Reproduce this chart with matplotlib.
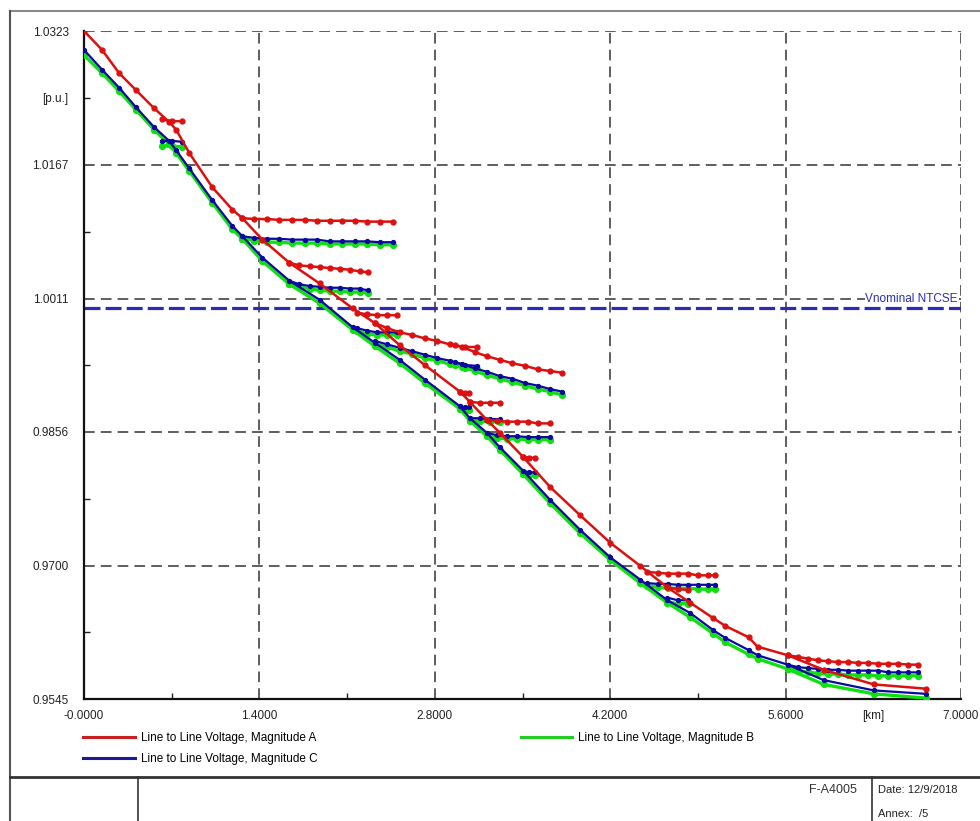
import matplotlib
matplotlib.use("Agg")
import matplotlib.pyplot as plt
from matplotlib import font_manager
from matplotlib.lines import Line2D

# font: narrow Arial look if available
avail = {f.name for f in font_manager.fontManager.ttflist}
fam = 'Liberation Sans Narrow' if 'Liberation Sans Narrow' in avail else 'Liberation Sans'
plt.rcParams['font.family'] = fam

# --- data: distance [km] per segment, voltage [p.u.] per phase (A red, B green, C blue)
main_km = [0.0, 0.144, 0.28, 0.416, 0.56, 0.68, 0.736, 0.84, 1.024, 1.184, 1.264, 1.424,
           1.64, 1.88, 2.144, 2.32, 2.52, 2.72, 3.0, 3.08, 3.216, 3.32, 3.504, 3.72, 3.96,
           4.2, 4.44, 4.656, 4.84, 5.024, 5.12, 5.304, 5.376, 5.616, 5.904, 6.304, 6.72]
main_a = [1.0323, 1.0301, 1.0274, 1.0254, 1.0233, 1.0217, 1.0208, 1.0181, 1.0141, 1.0115,
          1.0105, 1.0080, 1.0053, 1.0029, 1.0000, 0.9983, 0.9957, 0.9934, 0.9903, 0.9891,
          0.9870, 0.9855, 0.9827, 0.9792, 0.9759, 0.9727, 0.9700, 0.9675, 0.9657, 0.9639,
          0.9630, 0.9617, 0.9606, 0.9596, 0.9579, 0.9562, 0.9557]
main_b = [1.0295, 1.0274, 1.0253, 1.0231, 1.0208, 1.0191, 1.0181, 1.0160, 1.0123, 1.0092,
          1.0081, 1.0055, 1.0028, 1.0006, 0.9975, 0.9956, 0.9936, 0.9913, 0.9883, 0.9869,
          0.9851, 0.9835, 0.9807, 0.9773, 0.9738, 0.9707, 0.9680, 0.9657, 0.9640, 0.9621,
          0.9611, 0.9597, 0.9592, 0.9580, 0.9562, 0.9551, 0.9546]
main_c = [1.0301, 1.0278, 1.0257, 1.0234, 1.0211, 1.0195, 1.0184, 1.0163, 1.0126, 1.0096,
          1.0084, 1.0059, 1.0032, 1.0010, 0.9978, 0.9960, 0.9940, 0.9917, 0.9886, 0.9872,
          0.9855, 0.9838, 0.9811, 0.9777, 0.9742, 0.9710, 0.9684, 0.9660, 0.9645, 0.9625,
          0.9616, 0.9602, 0.9596, 0.9585, 0.9567, 0.9555, 0.9551]

stub1_km = [0.624, 0.704, 0.784]
stub1_a = [1.0220, 1.0218, 1.0218]
stub1_b = [1.0189, 1.0189, 1.0188]
stub1_c = [1.0195, 1.0195, 1.0194]

branch1_km = [1.264, 1.36, 1.46, 1.56, 1.66, 1.76, 1.86, 1.96, 2.06, 2.16, 2.26, 2.36, 2.464]
branch1_a = [1.0105, 1.0104, 1.0104, 1.0103, 1.0103, 1.0103, 1.0102, 1.0102, 1.0102, 1.0102,
             1.0101, 1.0101, 1.0101]
branch1_b = [1.0081, 1.0079, 1.0077, 1.0077, 1.0076, 1.0076, 1.0076, 1.0075, 1.0075, 1.0075,
             1.0075, 1.0074, 1.0074]
branch1_c = [1.0084, 1.0082, 1.0081, 1.0081, 1.0080, 1.0080, 1.0080, 1.0078, 1.0078, 1.0078,
             1.0078, 1.0077, 1.0077]

branch2_km = [1.64, 1.72, 1.80, 1.88, 1.96, 2.04, 2.12, 2.20, 2.264]
branch2_a = [1.0053, 1.0050, 1.0049, 1.0048, 1.0047, 1.0046, 1.0045, 1.0043, 1.0042]
branch2_b = [1.0028, 1.0025, 1.0023, 1.0021, 1.0020, 1.0020, 1.0019, 1.0019, 1.0018]
branch2_c = [1.0032, 1.0028, 1.0026, 1.0025, 1.0024, 1.0024, 1.0023, 1.0023, 1.0021]

stub2_km = [2.176, 2.26, 2.34, 2.42, 2.496]
stub2_a = [0.9995, 0.9993, 0.9992, 0.9992, 0.9992]
stub2_b = [0.9974, 0.9970, 0.9969, 0.9969, 0.9969]
stub2_c = [0.9977, 0.9974, 0.9972, 0.9972, 0.9972]

branch3_km = [2.32, 2.42, 2.52, 2.62, 2.72, 2.82, 2.92, 3.02, 3.12, 3.22, 3.32, 3.42, 3.52,
              3.62, 3.72, 3.816]
branch3_a = [0.9983, 0.9977, 0.9972, 0.9969, 0.9965, 0.9962, 0.9958, 0.9955, 0.9949, 0.9944,
             0.9940, 0.9936, 0.9933, 0.9929, 0.9927, 0.9925]
branch3_b = [0.9958, 0.9955, 0.9950, 0.9947, 0.9942, 0.9939, 0.9935, 0.9932, 0.9927, 0.9922,
             0.9918, 0.9914, 0.9910, 0.9906, 0.9903, 0.9899]
branch3_c = [0.9962, 0.9958, 0.9954, 0.9950, 0.9946, 0.9942, 0.9939, 0.9935, 0.9930, 0.9926,
             0.9921, 0.9918, 0.9913, 0.9910, 0.9906, 0.9903]

stub3_km = [2.96, 3.04, 3.136]
stub3_a = [0.9957, 0.9955, 0.9955]
stub3_b = [0.9934, 0.9930, 0.9929]
stub3_c = [0.9937, 0.9934, 0.9933]

stub4_km = [3.0, 3.04, 3.072]
stub4_a = [0.9903, 0.9901, 0.9901]
stub4_b = [0.9883, 0.9882, 0.9882]
stub4_c = [0.9886, 0.9885, 0.9885]

branch4_km = [3.08, 3.16, 3.24, 3.32]
branch4_a = [0.9891, 0.9890, 0.9890, 0.9890]
branch4_b = [0.9869, 0.9869, 0.9868, 0.9868]
branch4_c = [0.9872, 0.9872, 0.9871, 0.9871]

branch5_km = [3.216, 3.30, 3.38, 3.46, 3.54, 3.62, 3.72]
branch5_a = [0.9870, 0.9869, 0.9868, 0.9868, 0.9868, 0.9866, 0.9866]
branch5_b = [0.9851, 0.9849, 0.9848, 0.9848, 0.9847, 0.9847, 0.9847]
branch5_c = [0.9855, 0.9852, 0.9851, 0.9851, 0.9850, 0.9850, 0.9850]

stub5_km = [3.504, 3.55, 3.6]
stub5_a = [0.9827, 0.9826, 0.9826]
stub5_b = [0.9807, 0.9806, 0.9806]
stub5_c = [0.9811, 0.9809, 0.9809]

branch6_km = [4.496, 4.58, 4.66, 4.74, 4.82, 4.90, 4.98, 5.04]
branch6_a = [0.9693, 0.9692, 0.9691, 0.9691, 0.9691, 0.9689, 0.9689, 0.9689]
branch6_b = [0.9677, 0.9675, 0.9674, 0.9674, 0.9674, 0.9673, 0.9673, 0.9673]
branch6_c = [0.9680, 0.9679, 0.9679, 0.9678, 0.9678, 0.9678, 0.9678, 0.9678]

stub6_km = [4.656, 4.74, 4.82]
stub6_a = [0.9675, 0.9673, 0.9672]
stub6_b = [0.9658, 0.9656, 0.9656]
stub6_c = [0.9663, 0.9660, 0.9660]

branch7_km = [5.616, 5.70, 5.78, 5.86, 5.94, 6.02, 6.10, 6.18, 6.26, 6.34, 6.42, 6.50, 6.58, 6.656]
branch7_a = [0.9596, 0.9594, 0.9592, 0.9590, 0.9589, 0.9588, 0.9588, 0.9587, 0.9587, 0.9586,
             0.9586, 0.9586, 0.9585, 0.9585]
branch7_b = [0.9580, 0.9578, 0.9576, 0.9575, 0.9574, 0.9574, 0.9573, 0.9573, 0.9573, 0.9572,
             0.9572, 0.9572, 0.9572, 0.9572]
branch7_c = [0.9585, 0.9582, 0.9581, 0.9580, 0.9579, 0.9579, 0.9578, 0.9578, 0.9578, 0.9578,
             0.9576, 0.9576, 0.9576, 0.9576]

v_nominal = 1.0

x_ticks = [0.0, 1.4, 2.8, 4.2, 5.6, 7.0]
x_labels = ['-0.0000', '1.4000', '2.8000', '4.2000', '5.6000', '7.0000']
y_ticks = [0.9545, 0.9700, 0.9856, 1.0011, 1.0167, 1.0323]
y_labels = ['0.9545', '0.9700', '0.9856', '1.0011', '1.0167', '1.0323']

segments = [
    (main_km, main_a, main_b, main_c),
    (stub1_km, stub1_a, stub1_b, stub1_c),
    (branch1_km, branch1_a, branch1_b, branch1_c),
    (branch2_km, branch2_a, branch2_b, branch2_c),
    (stub2_km, stub2_a, stub2_b, stub2_c),
    (branch3_km, branch3_a, branch3_b, branch3_c),
    (stub3_km, stub3_a, stub3_b, stub3_c),
    (stub4_km, stub4_a, stub4_b, stub4_c),
    (branch4_km, branch4_a, branch4_b, branch4_c),
    (branch5_km, branch5_a, branch5_b, branch5_c),
    (stub5_km, stub5_a, stub5_b, stub5_c),
    (branch6_km, branch6_a, branch6_b, branch6_c),
    (stub6_km, stub6_a, stub6_b, stub6_c),
    (branch7_km, branch7_a, branch7_b, branch7_c),
]

RED = '#dd1010'
GREEN = '#10e010'
BLUE = '#0a0aa0'
NOM = '#2b2bb8'

W, H = 980, 821
fig = plt.figure(figsize=(W / 100, H / 100), dpi=100)
ax = fig.add_axes([84 / W, 1 - 699 / H, 877 / W, 668 / H])

for km, a, b, c in segments:
    ax.plot(km, b, color=GREEN, lw=2.4, marker='o', ms=4.2, zorder=3)
for km, a, b, c in segments:
    ax.plot(km, c, color=BLUE, lw=1.6, marker='o', ms=2.8, zorder=4)
for km, a, b, c in segments:
    ax.plot(km, a, color=RED, lw=1.8, marker='o', ms=3.5, zorder=5)

ax.axhline(v_nominal, color=NOM, lw=2.3, linestyle=(0, (5, 1.6)), zorder=2.5)
ax.text(6.975, v_nominal + 0.0004, 'Vnominal NTCSE', ha='right', va='bottom', color=NOM,
        fontsize=8.5, zorder=6, bbox=dict(facecolor='white', edgecolor='none', pad=0.5))

ax.set_xlim(0, 7.0)
ax.set_ylim(0.9545, 1.0323)
ax.set_xticks(x_ticks, x_labels)
ax.set_yticks(y_ticks, y_labels)
ax.set_xticks([0.7, 2.1, 3.5, 4.9, 6.3], ['', '', '', '', '[km]'], minor=True)
ax.set_yticks([0.9623, 0.9778, 0.9934, 1.0089, 1.0245], ['', '', '', '', '[p.u.]'], minor=True)
ax.tick_params(which='major', length=0, labelsize=8.5, colors='#222222')
ax.tick_params(axis='x', which='both', pad=8)
ax.tick_params(axis='y', which='both', pad=11)
ax.tick_params(which='minor', direction='in', length=4, width=1, labelsize=8.5, colors='#222222')

ax.grid(True, which='major', color='#333333', linestyle=(0, (7, 4)), lw=1.1, zorder=1)
ax.set_axisbelow(True)
for s in ['top', 'right']:
    ax.spines[s].set_visible(False)
for s in ['left', 'bottom']:
    ax.spines[s].set_linewidth(1.6)
    ax.spines[s].set_color('#111111')

# legend
handles = [Line2D([], [], color='#c82020', lw=2.2),
           Line2D([], [], color='#1a1a98', lw=2.2),
           Line2D([], [], color='#22cc22', lw=2.2)]
labels = ['Line to Line Voltage, Magnitude A',
          'Line to Line Voltage, Magnitude C',
          'Line to Line Voltage, Magnitude B']
fig.legend(handles, labels, ncol=2, loc='upper left', bbox_to_anchor=(83 / W, 1 - 732 / H),
           frameon=False, fontsize=8.5, handlelength=4.4, handletextpad=0.5,
           columnspacing=17.2, labelspacing=0.75, borderpad=0, borderaxespad=0)

# page frame and title block
def fline(x0, y0, x1, y1, lw, color):
    fig.add_artist(Line2D([x0 / W, x1 / W], [1 - y0 / H, 1 - y1 / H], lw=lw, color=color,
                          transform=fig.transFigure))

fline(10, 11, 980, 11, 1.5, '#8a8a8a')
fline(10, 11, 10, 821, 1.5, '#555555')
fline(10, 777, 980, 777, 2.0, '#333333')
fline(138, 777, 138, 821, 1.2, '#333333')
fline(872, 777, 872, 821, 1.2, '#333333')

fig.text(857 / W, 1 - 790 / H, 'F-A4005', ha='right', va='center', fontsize=9, color='#333333')
fig.text(878 / W, 1 - 790 / H, 'Date: 12/9/2018', ha='left', va='center', fontsize=8, color='#222222')
fig.text(878 / W, 1 - 814 / H, 'Annex:  /5', ha='left', va='center', fontsize=8, color='#222222')

fig.savefig('out.png', dpi=100)
